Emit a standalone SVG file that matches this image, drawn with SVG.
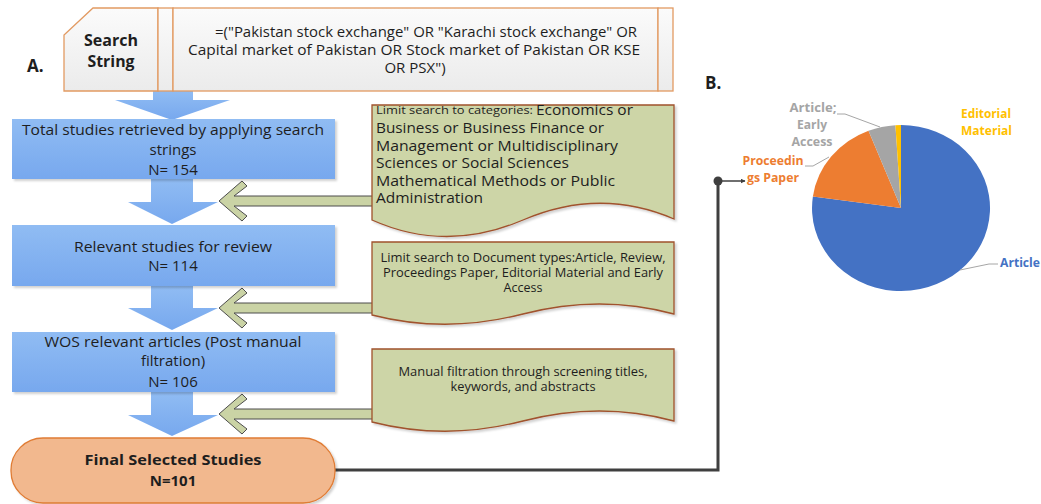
<svg xmlns="http://www.w3.org/2000/svg" width="1041" height="504" viewBox="0 0 1041 504">
  <defs>
    <linearGradient id="gBlue" x1="0" y1="0" x2="0" y2="1">
      <stop offset="0" stop-color="#90bcf3"/>
      <stop offset="1" stop-color="#77a8ee"/>
    </linearGradient>
    <linearGradient id="gGray" x1="0" y1="0" x2="0" y2="1">
      <stop offset="0" stop-color="#fbfbfb"/>
      <stop offset="1" stop-color="#ebebeb"/>
    </linearGradient>
    <filter id="shadow" x="-5%" y="-5%" width="115%" height="120%">
      <feDropShadow dx="2" dy="2" stdDeviation="1.2" flood-color="#000" flood-opacity="0.18"/>
    </filter>
    <marker id="tri" viewBox="0 0 10 10" refX="9" refY="5" markerWidth="5" markerHeight="5" orient="auto" markerUnits="userSpaceOnUse">
      <path d="M0,0 L10,5 L0,10 Z" fill="#3f3f3f"/>
    </marker>
  </defs>
  <style>
    text { font-family: "Open Sans", "Liberation Sans", sans-serif; fill: #1e1e1e; }
    .t15 { font-size: 15px; }
    .t14 { font-size: 14px; }
    .t13 { font-size: 12.5px; }
    .bold { font-weight: bold; }
    .mid { text-anchor: middle; }
    .blue { fill: url(#gBlue); filter: url(#shadow); }
    .bluearrow { fill: url(#gBlue); }
    .doc { fill: #cdd5a7; stroke: #a0522d; stroke-width: 1.3; filter: url(#shadow); }
    .garrow { fill: #cad3a5; stroke: #4d4d4d; stroke-width: 1; stroke-linejoin: miter; }
    .sbox { fill: url(#gGray); stroke: #e29a62; stroke-width: 1.3; }
    .pielbl { font-family: "Open Sans", "Liberation Sans", sans-serif; font-weight: bold; font-size: 12.5px; }
    .leader { fill: none; stroke: #a6a6a6; stroke-width: 1; }
  </style>

  <rect width="1041" height="504" fill="#ffffff"/>

  <!-- panel letters -->
  <text x="27" y="72" class="bold" style="font-size:17px">A.</text>
  <text x="705" y="89" class="bold" style="font-size:17px">B.</text>

  <!-- flow connectors: blue block arrows and green feedback arrows -->
  <g id="connectors">
    <polygon class="bluearrow" points="153,91 193,91 193,100 230,100 172,120 115,100 153,100"/>
    <polygon class="bluearrow" points="151,179 193,179 193,202 218,202 172,224 128,202 151,202"/>
    <polygon class="bluearrow" points="151,286 193,286 193,308 218,308 172,330 128,308 151,308"/>
    <polygon class="bluearrow" points="151,392 193,392 193,415 218,415 172,436 128,415 151,415"/>

    <polygon class="garrow" points="219,201 242,181 247,186 234,196 373,196 373,206 234,206 247,216 242,221"/>
    <polygon class="garrow" points="219,308 242,288 247,293 234,303 373,303 373,313 234,313 247,323 242,328"/>
    <polygon class="garrow" points="219,414 242,394 247,399 234,409 373,409 373,419 234,419 247,429 242,434"/>

    <polyline points="335,470 718,470 718,181" fill="none" stroke="#3f3f3f" stroke-width="3"/>
    <circle cx="718" cy="181" r="4.5" fill="#3f3f3f"/>
    <line x1="718" y1="181" x2="745" y2="181" stroke="#3f3f3f" stroke-width="1.5" marker-end="url(#tri)"/>
  </g>

  <!-- search string -->
  <g id="node-search">
    <path class="sbox" d="M93,8 H158 V91 H64 V35 Z"/>
    <rect class="sbox" x="158" y="8" width="15" height="83"/>
    <rect class="sbox" x="173" y="8" width="485" height="83"/>
    <rect class="sbox" x="658" y="8" width="15" height="83"/>
    <text x="111" y="46" class="mid bold" style="font-size:16px" textLength="54" lengthAdjust="spacingAndGlyphs">Search</text>
    <text x="111" y="67" class="mid bold" style="font-size:16px" textLength="47" lengthAdjust="spacingAndGlyphs">String</text>
    <text x="426" y="37" class="mid t15" textLength="422" lengthAdjust="spacingAndGlyphs">=("Pakistan stock exchange" OR "Karachi stock exchange" OR</text>
    <text x="414" y="55" class="mid t15" textLength="452" lengthAdjust="spacingAndGlyphs">Capital market of Pakistan OR Stock market of Pakistan OR KSE</text>
    <text x="415" y="73" class="mid t15">OR PSX")</text>
  </g>

  <g id="node-total">
    <rect class="blue" x="12" y="119" width="323" height="60"/>
    <text x="173" y="135" class="mid t15" textLength="302" lengthAdjust="spacingAndGlyphs">Total studies retrieved by applying search</text>
    <text x="173" y="155" class="mid t15">strings</text>
    <text x="173" y="175" class="mid t15">N= 154</text>
  </g>

  <g id="node-relevant">
    <rect class="blue" x="12" y="225" width="323" height="61"/>
    <text x="173" y="252" class="mid t15" textLength="198" lengthAdjust="spacingAndGlyphs">Relevant studies for review</text>
    <text x="173" y="271" class="mid t15">N= 114</text>
  </g>

  <g id="node-wos">
    <rect class="blue" x="12" y="332" width="323" height="60"/>
    <text x="173" y="347" class="mid t15" textLength="257" lengthAdjust="spacingAndGlyphs">WOS relevant articles (Post manual</text>
    <text x="173" y="366" class="mid t15">filtration)</text>
    <text x="173" y="387" class="mid t15">N= 106</text>
  </g>

  <g id="node-final">
    <rect x="11" y="438" width="324" height="65" rx="32" ry="32" fill="#f2b88e" stroke="#e07c34" stroke-width="1.3" filter="url(#shadow)"/>
    <text x="173" y="465" class="mid bold t15" textLength="177" lengthAdjust="spacingAndGlyphs">Final Selected Studies</text>
    <text x="173" y="486" class="mid bold t15">N=101</text>
  </g>

  <g id="node-limit-categories">
    <path class="doc" d="M372,105 H674 V219 Q600,187 523,220 T372,220 Z"/>
    <text x="376" y="114" style="font-size:10.5px" textLength="157" lengthAdjust="spacingAndGlyphs">Limit search to categories:</text>
    <text x="536" y="115" class="t14" textLength="97" lengthAdjust="spacingAndGlyphs">Economics or</text>
    <text x="376" y="133" class="t14" textLength="228" lengthAdjust="spacingAndGlyphs">Business or Business Finance or</text>
    <text x="376" y="151" class="t14" textLength="242" lengthAdjust="spacingAndGlyphs">Management or Multidisciplinary</text>
    <text x="376" y="168" class="t14" textLength="193" lengthAdjust="spacingAndGlyphs">Sciences or Social Sciences</text>
    <text x="376" y="186" class="t14" textLength="239" lengthAdjust="spacingAndGlyphs">Mathematical Methods or Public</text>
    <text x="376" y="203" class="t14" textLength="107" lengthAdjust="spacingAndGlyphs">Administration</text>
  </g>

  <g id="node-limit-types">
    <path class="doc" d="M372,242 H674 V314 Q600,294 523,314 T372,315 Z"/>
    <text x="523" y="262" class="mid t13" textLength="285" lengthAdjust="spacingAndGlyphs">Limit search to Document types:Article, Review,</text>
    <text x="523" y="277" class="mid t13" textLength="280" lengthAdjust="spacingAndGlyphs">Proceedings Paper, Editorial Material and Early</text>
    <text x="523" y="292" class="mid t13">Access</text>
  </g>

  <g id="node-manual">
    <path class="doc" d="M372,349 H674 V421 Q600,401 523,421 T372,422 Z"/>
    <text x="523" y="376" class="mid t13" textLength="249" lengthAdjust="spacingAndGlyphs">Manual filtration through screening titles,</text>
    <text x="523" y="391" class="mid t13" textLength="145" lengthAdjust="spacingAndGlyphs">keywords, and abstracts</text>
  </g>

  <!-- document type pie chart -->
  <g id="pie-chart">
    <g>
      <path d="M901,208 L901,125 A89,83 0 1 1 812.9,196.4 Z" fill="#4472c4"/>
      <path d="M901,208 L812.9,196.4 A89,83 0 0 1 868.5,130.7 Z" fill="#ed7d31"/>
      <path d="M901,208 L868.5,130.7 A89,83 0 0 1 895.4,125.2 Z" fill="#a5a5a5"/>
      <path d="M901,208 L895.4,125.2 A89,83 0 0 1 901,125 Z" fill="#ffc000"/>
    </g>
    <polyline class="leader" points="837,114 845,114 880,127"/>
    <polyline class="leader" points="805,166 813,166 829,157"/>
    <polyline class="leader" points="960,270 989,264 998,264"/>
    <text class="pielbl" x="961" y="118" style="fill:#ffc000" textLength="50" lengthAdjust="spacingAndGlyphs">Editorial</text>
    <text class="pielbl" x="961" y="135" style="fill:#ffc000" textLength="51" lengthAdjust="spacingAndGlyphs">Material</text>
    <text class="pielbl mid" x="813" y="112" style="fill:#a5a5a5" textLength="47" lengthAdjust="spacingAndGlyphs">Article;</text>
    <text class="pielbl mid" x="812" y="129" style="fill:#a5a5a5" textLength="30" lengthAdjust="spacingAndGlyphs">Early</text>
    <text class="pielbl mid" x="812" y="146" style="fill:#a5a5a5" textLength="41" lengthAdjust="spacingAndGlyphs">Access</text>
    <text class="pielbl mid" x="773" y="165" style="fill:#ed7d31" textLength="61" lengthAdjust="spacingAndGlyphs">Proceedin</text>
    <text class="pielbl mid" x="773" y="182" style="fill:#ed7d31" textLength="52" lengthAdjust="spacingAndGlyphs">gs Paper</text>
    <text class="pielbl" x="1000" y="267" style="fill:#4472c4" textLength="40" lengthAdjust="spacingAndGlyphs">Article</text>
  </g>
</svg>
